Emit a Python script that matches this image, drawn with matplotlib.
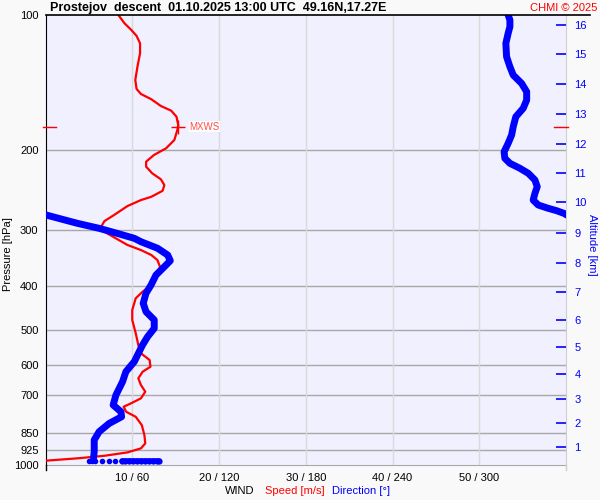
import matplotlib
matplotlib.use('Agg')
import matplotlib.pyplot as plt
from matplotlib.lines import Line2D

plt.rcParams['font.family'] = ['Liberation Sans', 'DejaVu Sans']

# Wind speed profile [m/s] against pressure [hPa]
speed_p = [100, 104.3, 108, 111.3, 115.6, 121.7, 130.3, 139.5, 146, 149.8,
           153.9, 159.3, 163.2, 168.3, 175.6, 180.1, 189.6, 197.8, 204.7, 211.8,
           217.3, 224.8, 231.8, 238.7, 245.8, 253.5, 257.8, 265.8, 278.3, 287,
           297.9, 305.6, 313.5, 324.4, 332.9, 341.5, 350.4, 362.6, 378.4, 398.1,
           411.9, 426.1, 452.4, 476.1, 509.6, 541.2, 564.7, 584.4, 604.7, 620.4,
           641.7, 664.1, 687.3, 711, 729.5, 742.3, 761.6, 781.4, 815.3, 857.9,
           895.3, 918.5, 937.5, 953.9, 966.4, 978.2]
speed = [8.4, 9.1, 9.9, 10.5, 10.9, 10.9, 10.6, 10.35, 10.5, 11.0,
         12.2, 13.3, 14.5, 15.1, 15.3, 15.2, 14.85, 13.9, 12.5, 11.6,
         11.6, 12.3, 13.3, 13.7, 13.5, 12.2, 11.0, 9.45, 7.9, 6.8,
         6.3, 7.1, 8.1, 9.45, 11.0, 12.2, 12.9, 13.2, 12.9, 12.2,
         11.2, 10.4, 10.0, 10.0, 10.4, 10.7, 11.0, 12.0, 12.1, 11.2,
         10.7, 11.0, 11.5, 11.0, 9.85, 9.0, 9.3, 10.4, 11.1, 11.4,
         11.5, 11.0, 9.45, 6.8, 3.7, 0.0]

# Wind direction profile [deg] against pressure [hPa]
dir_p = [100, 102.6, 106.2, 109.8, 115.6, 123.8, 130.3, 136.0, 141.9, 148.1,
         154.5, 161.2, 168.3, 177.1, 184.8, 192.8, 201.3, 208.2, 213.6, 219.1,
         224.8, 232.6, 240.8, 249.1, 257.8, 264.4, 268.9, 272.2, 275.9, 278.3,
         290.4, 297.9, 306.6, 313.5, 319.0, 329.9, 341.5, 351.6, 362.6, 378.4,
         398.1, 415.4, 437.2, 456.3, 476.1, 497.0, 518.8, 541.2, 589.4, 620.4,
         652.9, 699.3, 735.6, 761.6, 781.4, 808.2, 843.3, 879.9, 934.2, 966.4]
direction = [320.0, 321.2, 321.2, 320.0, 318.4, 318.9, 321.2, 323.5, 329.3, 332.8,
             332.8, 330.4, 325.3, 323.5, 322.4, 320.0, 317.2, 317.7, 321.2, 328.1,
             333.9, 338.5, 340.1, 338.5, 337.3, 340.8, 347.7, 353.5, 358.6, 0.5,
             22.1, 37.1, 51.0, 61.4, 66.0, 77.5, 84.5, 86.3, 82.2, 76.4,
             73.0, 69.5, 67.6, 69.5, 75.2, 75.2, 70.6, 67.1, 61.4, 55.6,
             53.3, 48.7, 46.8, 52.2, 52.6, 44.1, 37.1, 33.7, 33.7, 33.2]

# Near-surface direction samples (sparse ones, then a dense run)
sfc_p = [978] * 6
sfc_dir = [30.2, 32.3, 34.4, 39.2, 44.1, 48.2]
sfc_run_p = [978] * 11
sfc_run_dir = [52.6, 55.1, 57.9, 60.7, 63.5, 66.2, 69.0, 71.8, 74.5, 77.3, 78.7]

# Maximum wind speed
mxws_p = 177
mxws_speed = 15.3

p_ticks = [100, 200, 300, 400, 500, 600, 700, 850, 925, 1000]
p_grid = [200, 300, 400, 500, 600, 700, 850, 925]
x_ticks = [10, 20, 30, 40, 50]
x_labels = ['10 / 60', '20 / 120', '30 / 180', '40 / 240', '50 / 300']
alt_km = list(range(1, 17))
alt_p = [911, 805, 712, 627, 546, 476, 413, 356, 305, 261,
         224, 193, 166, 142, 122, 105]

RED = '#ff0000'
BLUE = '#0000ff'


def split_wrap(pres, dirs):
    """Split direction profile where it wraps across 0/360 so the line
    leaves at one edge and comes in at the other."""
    segs = []
    ps, xs = [pres[0]], [dirs[0] / 6.0]
    for i in range(1, len(dirs)):
        d = dirs[i] - dirs[i - 1]
        if abs(d) > 180:
            shift = 360 if d < 0 else -360
            ps.append(pres[i])
            xs.append((dirs[i] + shift) / 6.0)
            segs.append((xs, ps))
            ps = [pres[i - 1], pres[i]]
            xs = [(dirs[i - 1] - shift) / 6.0, dirs[i] / 6.0]
        else:
            ps.append(pres[i])
            xs.append(dirs[i] / 6.0)
    segs.append((xs, ps))
    return segs


fig = plt.figure(figsize=(6, 5), dpi=100, facecolor='#f9f9f9')
ax = fig.add_axes([45.5 / 600, 35 / 500, 520.5 / 600, 450 / 500])
ax.set_facecolor('#f0f0ff')
ax.set_yscale('log')
ax.set_ylim(1000, 100)
ax.set_xlim(0, 60)

# grid
for p in p_grid:
    ax.axhline(p, color='#a8a8a8', lw=1, zorder=1)
for x in x_ticks:
    ax.axvline(x, color='#dadada', lw=1, zorder=1)

# speed
ax.plot(speed, speed_p, color=RED, lw=1.6, zorder=3)

# direction (scaled 360 deg -> 60)
for xs, ps in split_wrap(dir_p, direction):
    ax.plot(xs, ps, color=BLUE, lw=5, solid_capstyle='round',
            solid_joinstyle='round', zorder=4)
ax.plot([d / 6.0 for d in sfc_dir], sfc_p, 'o', color=BLUE, ms=4,
        mew=0, zorder=4)
ax.plot([d / 6.0 for d in sfc_run_dir], sfc_run_p, '-o', color=BLUE, ms=4.5,
        lw=4, mew=0, solid_capstyle='round', zorder=4)

# MXWS mark
ax.plot([mxws_speed], [mxws_p], '+', color=RED, ms=10, mew=1, zorder=5)
ax.text(mxws_speed + 1.3, mxws_p, 'MXWS', color='#ff4c4c', fontsize=7,
        va='center', ha='left', zorder=6,
        bbox=dict(facecolor='white', edgecolor='none', pad=0.5))
ax.plot([-0.3, 1.2], [mxws_p, mxws_p], color=RED, lw=1, clip_on=False,
        zorder=5)
ax.plot([58.6, 60.2], [mxws_p, mxws_p], color=RED, lw=1, clip_on=False,
        zorder=5)

# axes / ticks
ax.set_yticks(p_ticks)
ax.set_yticklabels([str(p) for p in p_ticks])
ax.minorticks_off()
ax.tick_params(axis='y', length=0, pad=5, labelsize=8)
ax.set_xticks(x_ticks)
ax.set_xticklabels(x_labels)
ax.tick_params(axis='x', length=0, pad=6, labelsize=8)

ax.spines['left'].set_color('black')
ax.spines['top'].set_visible(False)
ax.spines['bottom'].set_color('#a8a8a8')
ax.spines['right'].set_color('#cfcfcf')

# altitude axis on the right
ax2 = ax.twinx()
ax2.set_yscale('log')
ax2.set_ylim(1000, 100)
ax2.set_yticks(alt_p)
ax2.set_yticklabels([str(k) for k in alt_km])
ax2.minorticks_off()
ax2.tick_params(axis='y', direction='in', length=7, width=1.2, color=BLUE,
                labelcolor=BLUE, labelsize=8, pad=6)
for s in ax2.spines.values():
    s.set_visible(False)

# top black line reaching past the right axis, short spine stubs below
fig.add_artist(Line2D([45.5 / 600, 590 / 600], [485 / 500, 485 / 500],
                      color='black', lw=1.2))
fig.add_artist(Line2D([45.5 / 600, 45.5 / 600], [30 / 500, 35 / 500],
                      color='black', lw=1))
fig.add_artist(Line2D([566 / 600, 566 / 600], [30 / 500, 35 / 500],
                      color='#cfcfcf', lw=1))

# texts
fig.text(50 / 600, 492 / 500,
         'Prostejov  descent  01.10.2025 13:00 UTC  49.16N,17.27E',
         fontsize=9, fontweight='bold', va='center', ha='left')
fig.text(597 / 600, 492 / 500, 'CHMI \u00a9 2025', color=RED, fontsize=8,
         va='center', ha='right')
fig.text(8 / 600, 1 - 254 / 500, 'Pressure [hPa]', rotation=90, fontsize=8,
         va='center', ha='center')
fig.text(592 / 600, 1 - 245 / 500, 'Altitude [km]', rotation=270, fontsize=8,
         color=BLUE, va='center', ha='center')
fig.text(225 / 600, 1 - 491 / 500, 'WIND', fontsize=8, va='center')
fig.text(265 / 600, 1 - 491 / 500, 'Speed [m/s]', fontsize=8, color=RED,
         va='center')
fig.text(332 / 600, 1 - 491 / 500, 'Direction [\u00b0]', fontsize=8,
         color=BLUE, va='center')

fig.savefig('out.png', dpi=100, facecolor=fig.get_facecolor())
